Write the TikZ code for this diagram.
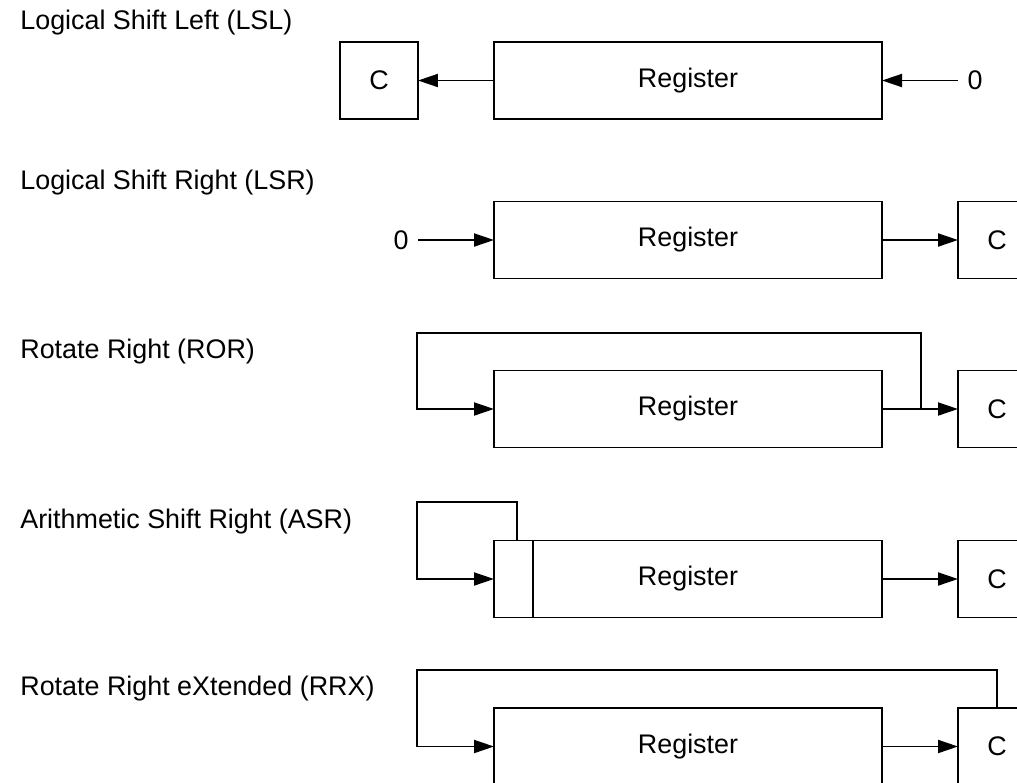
\documentclass[tikz,border=0pt]{standalone}
\usepackage{fontspec}
\setmainfont{Liberation Sans}
\usetikzlibrary{arrows.meta,positioning,calc}
\newcommand{\shiftfont}{\fontsize{15.3}{18}\selectfont}
\tikzset{
  regbox/.style={draw,line width=1.1pt,minimum width=77.6mm,minimum height=15.4mm,inner sep=0pt,outer sep=0pt,font=\shiftfont},
  cbox/.style={draw,line width=1.1pt,minimum width=15.6mm,minimum height=15.4mm,inner sep=0pt,outer sep=0pt,font=\shiftfont},
  optitle/.style={anchor=west,inner sep=0pt,font=\shiftfont},
  zerobit/.style={inner sep=1.9mm,font=\shiftfont},
}

\begin{document}
\begin{tikzpicture}[
    x=0.2mm,y=-0.2mm,
    arrow/.style={-{Triangle[length=4mm,width=2.6mm]},line width=1.1pt},
    wire/.style={line width=1.1pt},
  ]
  \useasboundingbox (0,0) rectangle (1017,783);
  \clip (0,0) rectangle (1017,783);
  % LSL
  \node[optitle] (lslT) at (20,23) {Logical Shift Left (LSL)};
  \node[regbox] (lslR) at (688,80.5) {Register};
  \node[cbox,left=15.2mm of lslR] (lslC) {C};
  \node[zerobit] (lslZ) at (975,80.5) {0};
  \draw[arrow] (lslR) -- (lslC);
  \draw[arrow] (lslZ) -- (lslR);
  % LSR
  \node[optitle] (lsrT) at (20,183) {Logical Shift Right (LSR)};
  \node[regbox] (lsrR) at (688,240) {Register};
  \node[cbox,right=15.2mm of lsrR] (lsrC) {C};
  \node[zerobit] (lsrZ) at (401,240) {0};
  \draw[arrow] (lsrZ) -- (lsrR);
  \draw[arrow] (lsrR) -- (lsrC);
  % ROR
  \node[optitle] (rorT) at (20,352) {Rotate Right (ROR)};
  \node[regbox] (rorR) at (688,409) {Register};
  \node[cbox,right=15.2mm of rorR] (rorC) {C};
  \coordinate (rorJ) at (921,409);
  \coordinate (rorTop) at (417,333);
  \draw[arrow] (rorR) -- (rorC);
  \draw[arrow] (rorJ) |- (rorTop) |- (rorR.west);
  % ASR
  \node[optitle] (asrT) at (20,522) {Arithmetic Shift Right (ASR)};
  \node[regbox] (asrR) at (688,579) {Register};
  \node[cbox,right=15.2mm of asrR] (asrC) {C};
  \coordinate (asrS) at ($(asrR.north west)+(39,0)$);
  \coordinate (asrJ) at ($(asrR.north west)+(23,0)$);
  \coordinate (asrTop) at (417,502);
  \draw[wire] (asrS) -- (asrS |- asrR.south);
  \draw[arrow] (asrR) -- (asrC);
  \draw[arrow] (asrJ) |- (asrTop) |- (asrR.west);
  % RRX
  \node[optitle] (rrxT) at (20,689) {Rotate Right eXtended (RRX)};
  \node[regbox] (rrxR) at (688,746.5) {Register};
  \node[cbox,right=15.2mm of rrxR] (rrxC) {C};
  \coordinate (rrxTop) at (417,670);
  \draw[arrow] (rrxR) -- (rrxC);
  \draw[arrow] (rrxC.north) |- (rrxTop) |- (rrxR.west);
\end{tikzpicture}
\end{document}
